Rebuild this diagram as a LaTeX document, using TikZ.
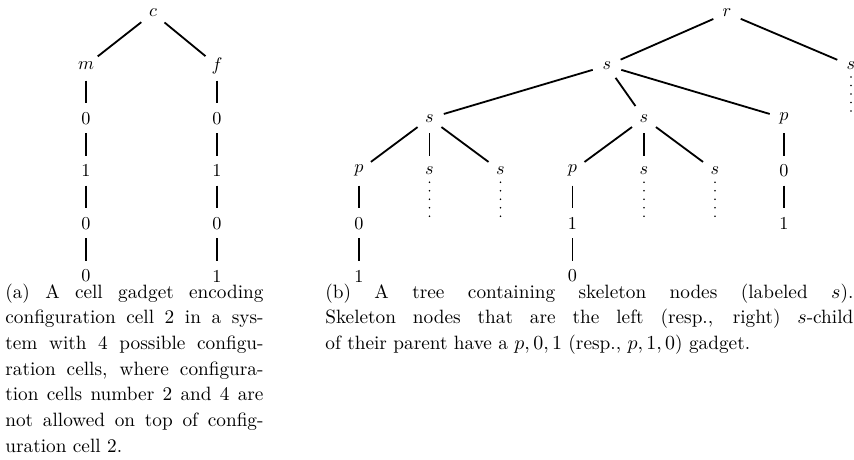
\documentclass[tikz,border=0pt]{standalone}
\begin{document}
\begin{tikzpicture}[x=0.55pt,y=-0.55pt,
  tn/.style={circle,inner sep=0pt,minimum size=16pt},
  br/.style={line width=1pt},
  vd/.style={line width=1pt,line cap=round,dash pattern=on 0pt off 4.675pt,shorten <=-1.9pt},
  capbox/.style={anchor=north west,inner sep=0pt,align=justify,font=\fontsize{10.6}{14.1}\selectfont}]
\useasboundingbox (0,0) rectangle (854,459);
% ---- left tree
\node[tn] (c) at (153,13) {$c$};
\node[tn] (m) at (86,65.6) {$m$};
\node[tn] (f) at (217,65.6) {$f$};
\node[tn] (m1) at (86,118.2) {0};
\node[tn] (m2) at (86,170.8) {1};
\node[tn] (m3) at (86,223.4) {0};
\node[tn] (m4) at (86,276) {0};
\node[tn] (f1) at (217,118.2) {0};
\node[tn] (f2) at (217,170.8) {1};
\node[tn] (f3) at (217,223.4) {0};
\node[tn] (f4) at (217,276) {1};
\draw[br] (c) -- (m);
\draw[br] (c) -- (f);
\draw[br] (m) -- (m1) -- (m2) -- (m3) -- (m4);
\draw[br] (f) -- (f1) -- (f2) -- (f3) -- (f4);
% ---- right tree
\node[tn] (r) at (727,13) {$r$};
\node[tn] (s1) at (607,65.6) {$s$};
\node[tn] (sR) at (851,65.6) {$s$};
\node[tn] (sa) at (429.5,118.2) {$s$};
\node[tn] (sb) at (644,118.2) {$s$};
\node[tn] (pc) at (784,118.2) {$p$};
\node[tn] (pa) at (359,170.8) {$p$};
\node[tn] (sa2) at (429.5,170.8) {$s$};
\node[tn] (sa3) at (500.5,170.8) {$s$};
\node[tn] (pb) at (572.5,170.8) {$p$};
\node[tn] (sb2) at (644,170.8) {$s$};
\node[tn] (sb3) at (715,170.8) {$s$};
\node[tn] (c0) at (784,170.8) {0};
\node[tn] (pa0) at (359,223.4) {0};
\node[tn] (pb1) at (572.5,223.4) {1};
\node[tn] (c1) at (784,223.4) {1};
\node[tn] (pa1) at (359,276) {1};
\node[tn] (pb0) at (572.5,276) {0};
\coordinate (dR) at (851,111.6);
\coordinate (dsa2) at (429.5,216.8);
\coordinate (dsa3) at (500.5,216.8);
\coordinate (dsb2) at (644,216.8);
\coordinate (dsb3) at (715,216.8);
\draw[br] (r) -- (s1);
\draw[br] (r) -- (sR);
\draw[br] (s1) -- (sa);
\draw[br] (s1) -- (sb);
\draw[br] (s1) -- (pc);
\draw[br] (sa) -- (pa);
\draw[br] (sa) -- (sa2);
\draw[br] (sa) -- (sa3);
\draw[br] (sb) -- (pb);
\draw[br] (sb) -- (sb2);
\draw[br] (sb) -- (sb3);
\draw[br] (pc) -- (c0) -- (c1);
\draw[br] (pa) -- (pa0) -- (pa1);
\draw[br] (pb) -- (pb1) -- (pb0);
\draw[vd] (sR) -- (dR);
\draw[vd] (sa2) -- (dsa2);
\draw[vd] (sa3) -- (dsa3);
\draw[vd] (sb2) -- (dsb2);
\draw[vd] (sb3) -- (dsb3);
% ---- captions
\node[capbox,text width=142pt] (capa) at (5,283.5)
 {(a) A cell gadget encoding\linebreak configuration cell 2 in a sys-\linebreak tem with 4 possible configu-\linebreak ration cells, where configura-\linebreak tion cells number 2 and 4 are\linebreak not allowed on top of config-\linebreak uration cell 2.};
\node[capbox,text width=290.4pt] (capb) at (325,283.5)
 {(b) A tree containing skeleton nodes (labeled $s$).\linebreak Skeleton nodes that are the left (resp., right) $s$-child\linebreak of their parent have a $p,0,1$ (resp., $p,1,0$) gadget.};
\end{tikzpicture}
\end{document}
